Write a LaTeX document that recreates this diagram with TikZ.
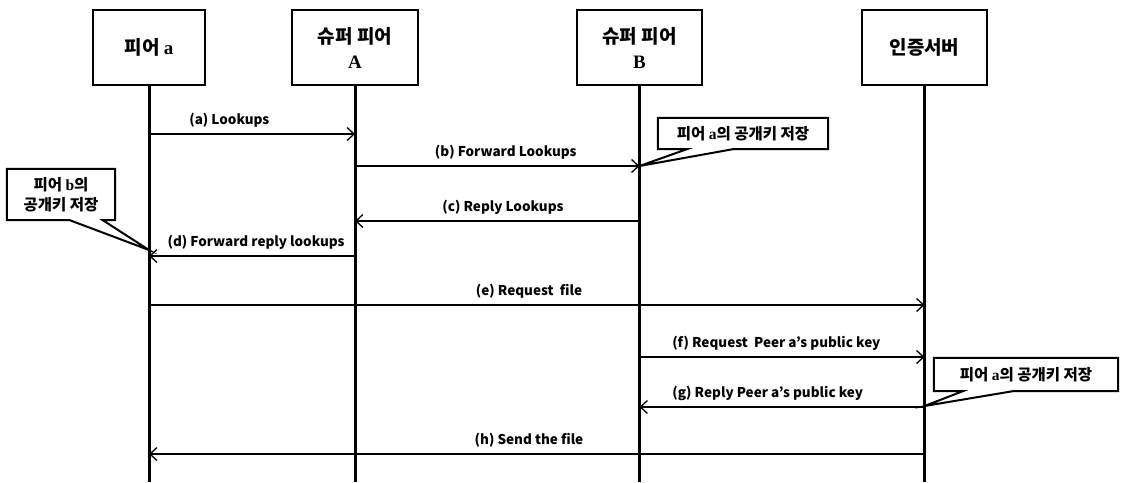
\documentclass[tikz,border=0pt]{standalone}
\usepackage{fontspec}
\setmainfont{Noto Sans CJK KR}
\newfontfamily\latinserif{Liberation Serif Bold}
\usetikzlibrary{arrows.meta}
\tikzset{actor/.style={draw, line width=1.8pt, minimum height=75pt, align=center, inner sep=2pt, font=\fontsize{19}{25}\selectfont\bfseries},
         lifeline/.style={line width=3pt},
         msg/.style={line width=1.2pt, -{Straight Barb[length=7pt,width=13pt,line width=1.3pt]}},
         lbl/.style={above=5pt, inner sep=1pt, font=\fontsize{13.5}{15}\selectfont\bfseries},
         memo/.style={inner sep=1pt, align=center, font=\fontsize{15.5}{20}\selectfont\bfseries},
         memo line/.style={draw, line width=2pt, fill=white, line join=miter}}
\newcommand\serifletter[1]{{\latinserif\mdseries #1}}

\begin{document}
\begin{tikzpicture}[x=1pt,y=-1pt]
   \useasboundingbox (0,0) rectangle (1121,482);
   % participants
   \node[actor, minimum width=112pt] (peer)   at (149,47.5) {피어 \serifletter{a}};
   \node[actor, minimum width=126pt] (superA) at (355,47.5) {슈퍼 피어\\\serifletter{A}};
   \node[actor, minimum width=125pt] (superB) at (639.5,47.5) {슈퍼 피어\\\serifletter{B}};
   \node[actor, minimum width=125pt] (auth)   at (924.5,47.5) {인증서버};
   % lifelines
   \coordinate (peer end)   at (149,482);
   \coordinate (superA end) at (355,482);
   \coordinate (superB end) at (639.5,482);
   \coordinate (auth end)   at (924.5,482);
   \draw[lifeline] (peer.south)   -- (peer end);
   \draw[lifeline] (superA.south) -- (superA end);
   \draw[lifeline] (superB.south) -- (superB end);
   \draw[lifeline] (auth.south)   -- (auth end);
   % messages
   \draw[msg] (peer |- 0,134)   -- node[lbl, pos=0.39] {(a) Lookups} (superA |- 0,134);
   \draw[msg] (superA |- 0,166) -- node[lbl, pos=0.53] {(b) Forward Lookups} (superB |- 0,166);
   \draw[msg] (superB |- 0,221) -- node[lbl, pos=0.48] {(c) Reply Lookups} (superA |- 0,221);
   \draw[msg] (superA |- 0,256) -- node[lbl, pos=0.48] {(d) Forward reply lookups} (peer |- 0,256);
   \draw[msg] (peer |- 0,305)   -- node[lbl, pos=0.49] {(e) Request\ \ file} (auth |- 0,305);
   \draw[msg] (superB |- 0,357) -- node[lbl, pos=0.48] {(f) Request\ \ Peer a’s public key} (auth |- 0,357);
   \draw[msg] (auth |- 0,407)   -- node[lbl, pos=0.55] {(g) Reply Peer a’s public key} (superB |- 0,407);
   \draw[msg] (auth |- 0,454)   -- node[lbl, pos=0.51] {(h) Send the file} (peer |- 0,454);
   % notes
   \coordinate (tipB)    at (superB |- 0,166);
   \coordinate (tipPeer) at (peer |- 0,250);
   \coordinate (tipAuth) at (auth |- 0,406);
   \node[memo, minimum width=170pt, minimum height=31pt] (noteB) at (743,133.5) {};
   \draw[memo line] (noteB.north west) -- (noteB.north east) -- (noteB.south east) -- ([xshift=75pt]noteB.south west)
                    -- (tipB) -- ([xshift=29pt]noteB.south west) -- (noteB.south west) -- cycle;
   \node[memo] at (noteB) {피어 \serifletter{a}의 공개키 저장};
   \node[memo, minimum width=108pt, minimum height=51pt] (notePeer) at (61,194.5) {};
   \draw[memo line] (notePeer.north west) -- (notePeer.north east) -- (notePeer.south east) -- ([xshift=96pt]notePeer.south west)
                    -- (tipPeer) -- ([xshift=63pt]notePeer.south west) -- (notePeer.south west) -- cycle;
   \node[memo] at (notePeer) {피어 \serifletter{b}의\\공개키 저장};
   \node[memo, minimum width=184pt, minimum height=33pt] (noteAuth) at (1026,374.5) {};
   \draw[memo line] (noteAuth.north west) -- (noteAuth.north east) -- (noteAuth.south east) -- ([xshift=79pt]noteAuth.south west)
                    -- (tipAuth) -- ([xshift=29pt]noteAuth.south west) -- (noteAuth.south west) -- cycle;
   \node[memo] at (noteAuth) {피어 \serifletter{a}의 공개키 저장};
\end{tikzpicture}
\end{document}
